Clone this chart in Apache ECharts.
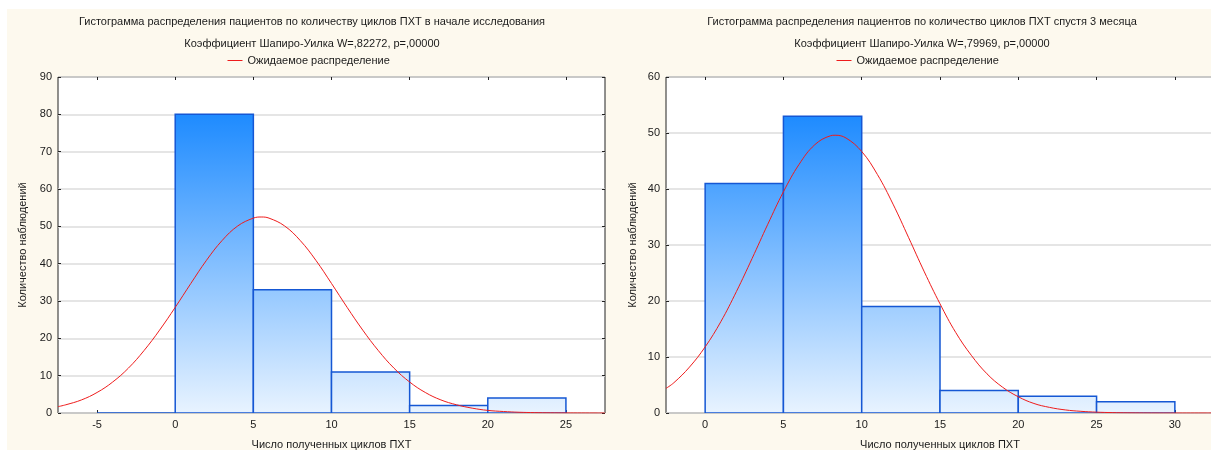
<!DOCTYPE html>
<html>
<head>
<meta charset="utf-8">
<script src="https://cdn.jsdelivr.net/npm/echarts@6/dist/echarts.min.js"></script>
<style>
  html, body { margin: 0; padding: 0; background: #ffffff; }
  #panel { position: absolute; left: 7px; top: 9px; width: 1204px; height: 441px; background: #fdf9ee; }
  #chart { position: absolute; left: 0; top: 0; width: 1211px; height: 450px; }
</style>
</head>
<body>
<div id="panel"></div>
<div id="chart"></div>
<script>
// Histogram bins (edges) and patient counts
const leftBinEdges = [-5, 0, 5, 10, 15, 20, 25];
const leftCounts = [0, 80, 33, 11, 2, 4];
const rightBinEdges = [0, 5, 10, 15, 20, 25, 30];
const rightCounts = [41, 53, 19, 4, 3, 2];

// Expected (normal) distribution curves
const leftCurveX = [-7.5, -7, -6, -5, -4, -3, -2, -1, 0, 1, 2, 3, 4, 5, 5.5, 6, 7, 8, 9, 10, 11, 12, 13, 14, 15, 16, 17, 18, 19, 20, 21, 22, 23, 24, 25, 26, 27, 27.5];
const leftCurveY = [1.7, 2.2, 3.5, 5.5, 8.3, 12.0, 16.7, 22.2, 28.3, 34.7, 40.9, 46.2, 50.1, 52.2, 52.5, 52.2, 50.1, 46.2, 40.9, 34.7, 28.3, 22.2, 16.7, 12.0, 8.3, 5.5, 3.5, 2.2, 1.3, 0.7, 0.4, 0.2, 0.1, 0.05, 0.02, 0.01, 0, 0];
const rightCurveX = [-2.5, -2, -1, 0, 1, 2, 3, 4, 5, 6, 7, 8, 8.3, 9, 10, 11, 12, 13, 14, 15, 16, 17, 18, 19, 20, 21, 22, 23, 24, 25, 26, 27, 28, 29, 30, 31, 32, 32.5];
const rightCurveY = [4.4, 5.4, 8.2, 11.8, 16.3, 21.7, 27.6, 33.7, 39.5, 44.4, 47.9, 49.5, 49.6, 49.1, 46.7, 42.6, 37.3, 31.3, 25.2, 19.5, 14.4, 10.3, 7.0, 4.6, 2.9, 1.7, 1.0, 0.55, 0.3, 0.15, 0.07, 0.03, 0.01, 0, 0, 0, 0, 0];

// Tick labels
const leftXTicks = [-5, 0, 5, 10, 15, 20, 25];
const rightXTicks = [0, 5, 10, 15, 20, 25, 30];

// Texts
const leftTitle = 'Гистограмма распределения пациентов по количеству циклов ПХТ в начале исследования';
const leftSubtitle = 'Коэффициент Шапиро-Уилка W=,82272, p=,00000';
const rightTitle = 'Гистограмма распределения пациентов по количество циклов ПХТ спустя 3 месяца';
const rightSubtitle = 'Коэффициент Шапиро-Уилка W=,79969, p=,00000';
const curveName = 'Ожидаемое распределение';
const xName = 'Число полученных циклов ПХТ';
const yName = 'Количество наблюдений';

const FONT = '"Liberation Sans", Arial, sans-serif';
const TXT = '#1a1a1a';
const RED = '#ee1c1c';

function binData(edges, counts) {
  return counts.map((c, i) => [edges[i], edges[i + 1], c]);
}
function pairs(xs, ys) {
  return xs.map((x, i) => [x, ys[i]]);
}

// Bars share one vertical gradient, from the tallest bar's top down to the baseline
function makeRender(maxCount) {
  return function (params, api) {
    const x0 = api.value(0), x1 = api.value(1), v = api.value(2);
    const pTop = api.coord([x0, v]);
    const pBot = api.coord([x1, 0]);
    const gTop = api.coord([x0, maxCount])[1];
    const fill = new echarts.graphic.LinearGradient(0, gTop, 0, pBot[1], [
      { offset: 0, color: '#1e8bff' },
      { offset: 1, color: '#e8f3ff' }
    ], true);
    return {
      type: 'rect',
      shape: { x: pTop[0], y: pTop[1], width: pBot[0] - pTop[0], height: pBot[1] - pTop[1] },
      style: { fill: fill, stroke: '#1557d4', lineWidth: 1.5 }
    };
  };
}

const tickStyle = { color: '#222' };

function mainX(grid, min, max, ticks) {
  return {
    type: 'value', gridIndex: grid, min: min, max: max, position: 'bottom',
    name: xName, nameLocation: 'middle', nameGap: 26,
    nameTextStyle: { fontFamily: FONT, fontSize: 11, color: TXT },
    axisLine: { show: false, onZero: false },
    axisTick: { show: true, inside: true, length: 3, customValues: ticks, lineStyle: tickStyle },
    axisLabel: { show: true, customValues: ticks, margin: 6, fontFamily: FONT, fontSize: 11, color: TXT },
    splitLine: { show: false }
  };
}
function topX(grid, min, max, ticks) {
  return {
    type: 'value', gridIndex: grid, min: min, max: max, position: 'top',
    axisLine: { show: false, onZero: false },
    axisTick: { show: true, inside: true, length: 3, customValues: ticks, lineStyle: tickStyle },
    axisLabel: { show: false },
    splitLine: { show: false }
  };
}
function mainY(grid, max, gap) {
  return {
    type: 'value', gridIndex: grid, min: 0, max: max, interval: 10, position: 'left',
    name: yName, nameLocation: 'middle', nameGap: gap, nameRotate: 90,
    nameTextStyle: { fontFamily: FONT, fontSize: 11, color: TXT },
    axisLine: { show: false, onZero: false },
    axisTick: { show: true, inside: true, length: 3, lineStyle: tickStyle },
    axisLabel: { margin: 6, fontFamily: FONT, fontSize: 11, color: TXT },
    splitLine: { show: true, lineStyle: { color: '#dcdcdc', width: 1.5 } }
  };
}
function rightY(grid, max) {
  return {
    type: 'value', gridIndex: grid, min: 0, max: max, interval: 10, position: 'right',
    axisLine: { show: false, onZero: false },
    axisTick: { show: true, inside: true, length: 3, lineStyle: tickStyle },
    axisLabel: { show: false },
    splitLine: { show: false }
  };
}

const chart = echarts.init(document.getElementById('chart'), null, { renderer: 'canvas' });

const titleStyle = { fontFamily: FONT, fontSize: 11, fontWeight: 'normal', color: TXT };
const legendText = { fontFamily: FONT, fontSize: 11, color: TXT };

// Legend shows only a short red line (no point marker)
function legendAt(x) {
  return {
    data: [curveName], left: x, top: 55, padding: 0, itemWidth: 15, itemHeight: 10, itemGap: 5,
    itemStyle: { opacity: 0 }, lineStyle: { color: RED, width: 1 }, textStyle: legendText
  };
}

chart.setOption({
  backgroundColor: 'transparent',
  animation: false,
  title: [
    { text: leftTitle, left: 312, top: 16, textAlign: 'center', textStyle: titleStyle, padding: 0 },
    { text: leftSubtitle, left: 312, top: 38, textAlign: 'center', textStyle: titleStyle, padding: 0 },
    { text: rightTitle, left: 922, top: 16, textAlign: 'center', textStyle: titleStyle, padding: 0 },
    { text: rightSubtitle, left: 922, top: 38, textAlign: 'center', textStyle: titleStyle, padding: 0 }
  ],
  legend: [legendAt(227), legendAt(836)],
  grid: [
    { left: 58, top: 77, width: 547, height: 336, outerBoundsMode: 'none', containLabel: false,
      show: true, backgroundColor: '#ffffff', borderColor: '#222', borderWidth: 1 },
    { left: 666, top: 77, width: 548, height: 336, outerBoundsMode: 'none', containLabel: false,
      show: true, backgroundColor: '#ffffff', borderColor: '#222', borderWidth: 1 }
  ],
  xAxis: [
    mainX(0, -7.5, 27.5, leftXTicks),
    topX(0, -7.5, 27.5, leftXTicks),
    mainX(1, -2.5, 32.5, rightXTicks),
    topX(1, -2.5, 32.5, rightXTicks)
  ],
  yAxis: [
    mainY(0, 90, 30),
    rightY(0, 90),
    mainY(1, 60, 28),
    rightY(1, 60)
  ],
  series: [
    {
      type: 'custom', name: 'left-bins', xAxisIndex: 0, yAxisIndex: 0,
      renderItem: makeRender(Math.max(...leftCounts)),
      encode: { x: [0, 1], y: 2 }, clip: true, z: 2,
      data: binData(leftBinEdges, leftCounts)
    },
    {
      type: 'line', name: curveName, xAxisIndex: 0, yAxisIndex: 0,
      data: pairs(leftCurveX, leftCurveY), smooth: 0.4, showSymbol: false, symbol: 'none',
      clip: true, z: 3, color: RED, itemStyle: { color: RED }, lineStyle: { color: RED, width: 1 }
    },
    {
      type: 'custom', name: 'right-bins', xAxisIndex: 2, yAxisIndex: 2,
      renderItem: makeRender(Math.max(...rightCounts)),
      encode: { x: [0, 1], y: 2 }, clip: true, z: 2,
      data: binData(rightBinEdges, rightCounts)
    },
    {
      type: 'line', name: curveName, xAxisIndex: 2, yAxisIndex: 2,
      data: pairs(rightCurveX, rightCurveY), smooth: 0.4, showSymbol: false, symbol: 'none',
      clip: true, z: 3, color: RED, itemStyle: { color: RED }, lineStyle: { color: RED, width: 1 }
    }
  ]
});
</script>
</body>
</html>
